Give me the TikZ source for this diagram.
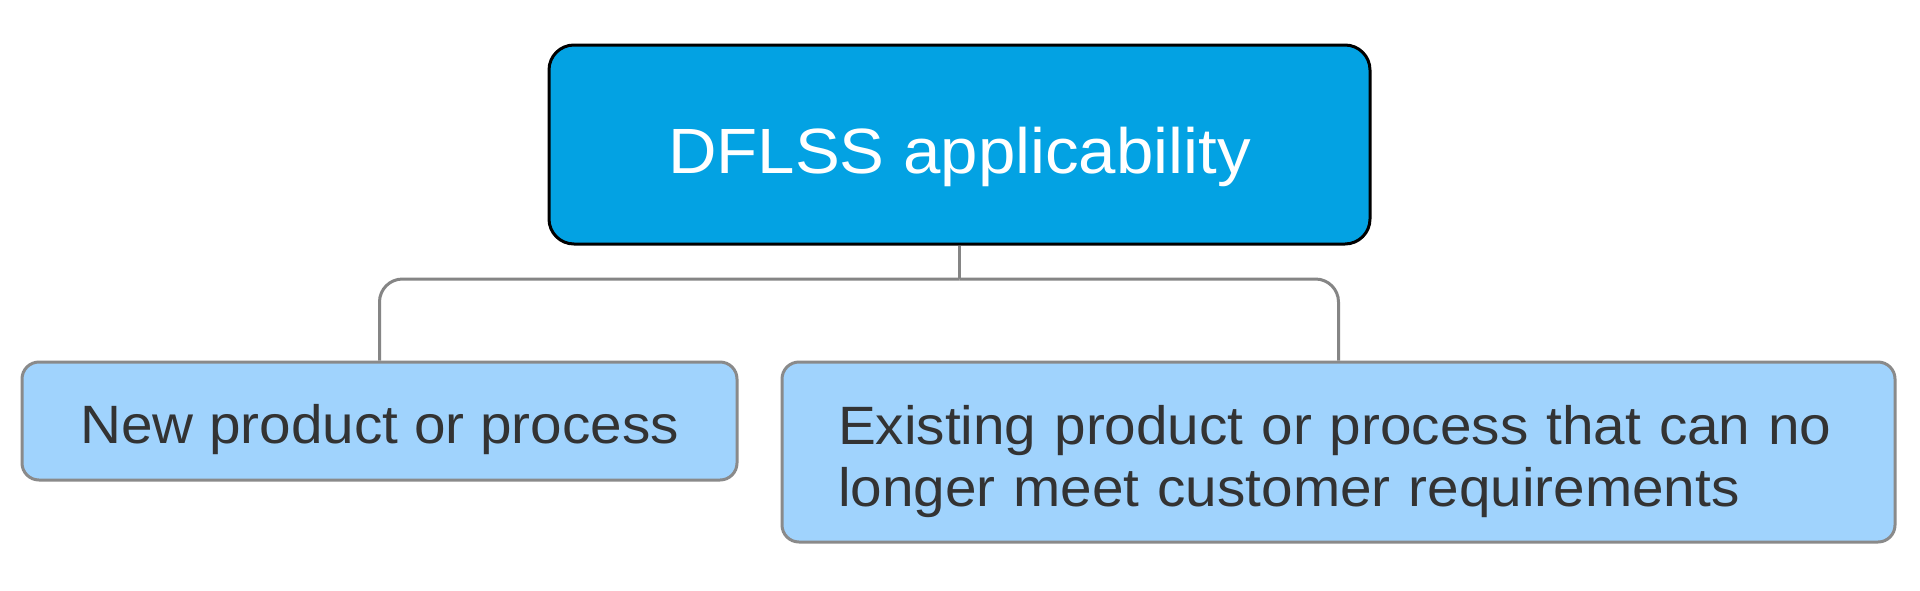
\documentclass[tikz,border=0pt]{standalone}
\usepackage{fontspec}
\setmainfont[FakeStretch=1.05]{Liberation Sans}
\definecolor{topfill}{HTML}{03A2E3}
\definecolor{childfill}{HTML}{A0D3FD}
\definecolor{childline}{HTML}{8A8A8A}
\definecolor{connline}{HTML}{858585}
\definecolor{txt}{HTML}{333333}
\tikzset{
  rootbox/.style={draw=black, line width=3pt, fill=topfill, rounded corners=25pt,
    inner sep=0pt, text=white, font=\fontsize{64}{74}\selectfont},
  childbox/.style={draw=childline, line width=3pt, fill=childfill, rounded corners=17pt,
    inner sep=0pt, text=txt, font=\fontsize{54}{62}\selectfont},
  conn/.style={draw=connline, line width=3pt, rounded corners=23pt}
}
\begin{document}
\begin{tikzpicture}[x=1pt,y=-1pt]
\useasboundingbox[fill=white] (0,0) rectangle (1920,590);
\node[rootbox, minimum width=821pt, minimum height=199pt, text height=57pt, text depth=0pt]
  (root) at (959.5,144.5) {DFLSS applicability};
\node[childbox, minimum width=715pt, minimum height=118pt, text height=45pt, text depth=0pt]
  (new) at (379.5,421) {New product or process};
\node[childbox, minimum width=1113pt, minimum height=180pt, text width=1001pt, align=left,
  text height=46pt, text depth=62pt]
  (exist) at (1338.5,452) {Existing product or process that can no\\longer meet customer requirements};
\coordinate (j) at (959.5,279);
\draw[conn] (root.south) -- (j);
\draw[conn] (j) -| (new.north);
\draw[conn] (j) -| (exist.north);
\end{tikzpicture}
\end{document}
